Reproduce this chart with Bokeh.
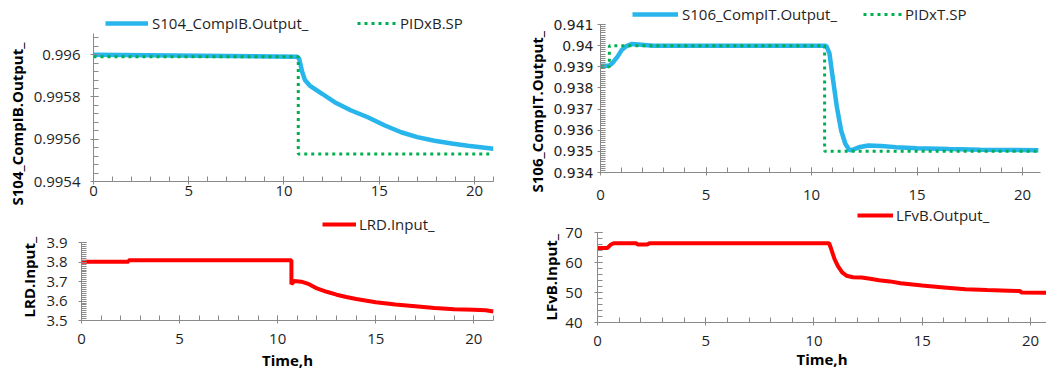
from bokeh.plotting import figure
from bokeh.models import (Range1d, SingleIntervalTicker, CustomJSTickFormatter,
                          Legend, LegendItem, Title)
from bokeh.layouts import row, column
from bokeh.embed import file_html
from bokeh.resources import INLINE

# ---------------- data ----------------
# top-left: S104_CompIB.Output_ and PIDxB.SP
t_s104 = [0, 10.7, 10.8, 10.95, 11.1, 11.35, 12.0, 12.66, 13.5, 14.4, 15.3, 16.15,
          17.0, 17.9, 18.8, 19.65, 21.0]
v_s104 = [0.99600, 0.99599, 0.99598, 0.99592, 0.99588, 0.995854, 0.995815, 0.995775,
          0.995737, 0.995704, 0.995665, 0.995633, 0.995610, 0.995593, 0.995580,
          0.995569, 0.995555]
t_pidxb = [0, 10.75, 10.75, 20.8]
v_pidxb = [0.99599, 0.99599, 0.99553, 0.99553]

# top-right: S106_CompIT.Output_ and PIDxT.SP
t_s106 = [0, 0.4, 0.55, 0.8, 1.0, 1.25, 1.5, 2.5, 10.7, 10.85, 11.0, 11.2, 11.4, 11.6,
          11.8, 12.0, 12.3, 12.7, 13.3, 14.0, 15.0, 16.5, 18.0, 20.75]
v_s106 = [0.93905, 0.93905, 0.93916, 0.93947, 0.93979, 0.93999, 0.94008, 0.93999,
          0.93999, 0.93963, 0.93852, 0.93710, 0.93600, 0.93536, 0.93505, 0.93509,
          0.93521, 0.93528, 0.93525, 0.93520, 0.93515, 0.93511, 0.93508, 0.93505]
t_pidxt = [0, 0.42, 0.42, 10.62, 10.62, 20.75]
v_pidxt = [0.939, 0.939, 0.940, 0.940, 0.935, 0.935]

# bottom-left: LRD.Input_
t_lrd = [0, 2.4, 2.4, 10.7, 10.7, 10.85, 11.2, 11.6, 12.0, 12.5, 13.0, 13.5, 14.0,
         15.0, 16.0, 17.0, 18.0, 19.0, 20.0, 20.6, 21.0]
v_lrd = [3.803, 3.803, 3.81, 3.81, 3.687, 3.704, 3.700, 3.687, 3.665, 3.648, 3.633,
         3.621, 3.611, 3.594, 3.582, 3.574, 3.565, 3.558, 3.556, 3.553, 3.546]

# bottom-right: LFvB.Output_
t_lfvb = [0, 0.45, 0.6, 0.75, 1.8, 1.85, 2.3, 2.4, 10.7, 10.8, 10.95, 11.1, 11.3, 11.5,
          11.8, 12.2, 12.6, 13.0, 13.5, 14.0, 15.0, 16.0, 17.0, 18.0, 19.0, 19.5,
          19.6, 20.75]
v_lfvb = [64.8, 64.8, 65.9, 66.4, 66.4, 66.0, 66.0, 66.4, 66.4, 64.4, 61.1, 58.9,
          56.7, 55.6, 55.1, 55.0, 54.6, 54.1, 53.7, 53.1, 52.3, 51.7, 51.1, 50.8,
          50.6, 50.5, 50.0, 49.9]

BLUE = "#27B5EC"
GREEN = "#00B050"
RED = "#FF0000"
AXIS = "#8a8a8a"
TXT = "#1f1f1f"
FONT = "Open Sans"


def make_fig(w, h, xr, ylo, yhi, axis_px, head_px, bl, br, bb):
    # frame starts at the figure top; the axis itself spans ylo..yhi over axis_px
    # pixels, leaving head_px pixels of headroom above it for the legend
    y_end = yhi + head_px * (yhi - ylo) / axis_px
    p = figure(width=w, height=h, x_range=Range1d(*xr), y_range=Range1d(ylo, y_end),
               output_backend="svg", toolbar_location=None,
               min_border_left=bl, min_border_right=br, min_border_top=0,
               min_border_bottom=bb, frame_align=False)
    p.title.visible = False
    p.xgrid.visible = False
    p.ygrid.visible = False
    p.outline_line_color = None
    p.background_fill_color = "white"
    p.border_fill_color = "white"
    for ax in (p.xaxis[0], p.yaxis[0]):
        ax.axis_line_color = AXIS
        ax.major_tick_line_color = AXIS
        ax.minor_tick_line_color = AXIS
        ax.major_tick_in = 5
        ax.major_tick_out = 3
        ax.minor_tick_in = 5
        ax.minor_tick_out = 0
        ax.major_label_text_font = FONT
        ax.major_label_text_font_size = "15px"
        ax.major_label_text_color = TXT
        ax.axis_label_text_font = FONT
        ax.axis_label_text_font_size = "15px"
        ax.axis_label_text_font_style = "bold"
        ax.axis_label_text_color = "#000000"
    eps = (yhi - ylo) * 1e-6
    p.yaxis[0].bounds = (ylo - eps, yhi + eps)
    p.xaxis[0].ticker = SingleIntervalTicker(interval=5, num_minor_ticks=5)
    return p


def add_ylabel(p, text, offset, standoff):
    # vertical axis title, anchored at its lower end
    p.add_layout(Title(text=text, align="left", offset=offset, standoff=standoff,
                       text_font=FONT, text_font_size="15px", text_font_style="bold",
                       text_color="#000000"), "left")


def add_leg(p, label, r, vx, vy, gw, standoff):
    leg = Legend(items=[LegendItem(label=label, renderers=[r])], location=(vx, vy),
                 orientation="horizontal", glyph_width=gw, glyph_height=20,
                 label_height=20, label_standoff=standoff, padding=0, margin=0,
                 border_line_color=None, background_fill_alpha=0,
                 label_text_font=FONT, label_text_font_size="15px",
                 label_text_color=TXT)
    p.add_layout(leg)


# ---------- top-left ----------
p1 = make_fig(520, 206, (0, 21), 0.9954, 0.9961, 148, 33, 93, 27, 25)
p1.yaxis[0].ticker = SingleIntervalTicker(interval=0.0002, num_minor_ticks=5)
p1.yaxis[0].formatter = CustomJSTickFormatter(code="return String(Number(tick.toFixed(4)))")
p1.yaxis[0].major_label_standoff = 10
p1.xaxis[0].major_label_standoff = 1
add_ylabel(p1, "S104_CompIB.Output_", -24, 8)
r1a = p1.line(t_s104, v_s104, line_color=BLUE, line_width=4.5)
r1b = p1.line(t_pidxb, v_pidxb, line_color=GREEN, line_width=3, line_dash="3 4")
add_leg(p1, "S104_CompIB.Output_", r1a, 12, 148, 43, 4)
add_leg(p1, "PIDxB.SP", r1b, 264, 148, 40, 3)

# ---------- top-right ----------
p2 = make_fig(526, 206, (0, 20.85), 0.934, 0.941, 148, 24, 75, 6, 34)
p2.yaxis[0].ticker = SingleIntervalTicker(interval=0.001, num_minor_ticks=10)
p2.yaxis[0].formatter = CustomJSTickFormatter(code="return String(Number(tick.toFixed(3)))")
p2.yaxis[0].major_label_text_font = "DejaVu Sans"
p2.yaxis[0].major_label_text_font_size = "14px"
p2.yaxis[0].major_label_standoff = 4
p2.xaxis[0].major_label_standoff = 14
add_ylabel(p2, "S106_CompIT.Output_", -20, 8)
r2a = p2.line(t_s106, v_s106, line_color=BLUE, line_width=4.5)
r2b = p2.line(t_pidxt, v_pidxt, line_color=GREEN, line_width=3, line_dash="3 4")
add_leg(p2, "S106_CompIT.Output_", r2a, 32, 148, 46, 4)
add_leg(p2, "PIDxT.SP", r2b, 263, 148, 39, 3)

# ---------- bottom-left ----------
p3 = make_fig(520, 166, (0, 21), 3.5, 3.9, 79, 37, 81, 27, 50)
p3.yaxis[0].ticker = SingleIntervalTicker(interval=0.1, num_minor_ticks=10)
p3.yaxis[0].formatter = CustomJSTickFormatter(code="return String(Number(tick.toFixed(1)))")
p3.yaxis[0].major_label_standoff = 11
p3.xaxis[0].major_label_standoff = 10
p3.xaxis[0].axis_label = "Time,h"
p3.xaxis[0].axis_label_standoff = 3
add_ylabel(p3, "LRD.Input_", 3, 9)
r3 = p3.line(t_lrd, v_lrd, line_color=RED, line_width=4)
add_leg(p3, "LRD.Input_", r3, 241, 86, 34, 3)

# ---------- bottom-right ----------
p4 = make_fig(526, 166, (0, 20.74), 40, 70, 90, 26, 77, 0, 50)
p4.yaxis[0].ticker = SingleIntervalTicker(interval=10, num_minor_ticks=5)
p4.yaxis[0].formatter = CustomJSTickFormatter(code="return String(Number(tick.toFixed(0)))")
p4.yaxis[0].major_label_standoff = 12
p4.xaxis[0].major_label_standoff = 10
p4.xaxis[0].axis_label = "Time,h"
p4.xaxis[0].axis_label_standoff = 0
add_ylabel(p4, "LFvB.Input_", 2, 4)
r4 = p4.line(t_lfvb, v_lfvb, line_color=RED, line_width=4)
add_leg(p4, "LFvB.Output_", r4, 260, 97, 36, 3)

layout = column(row(p1, p2), row(p3, p4))

open("out.html", "w").write(file_html(layout, INLINE))
